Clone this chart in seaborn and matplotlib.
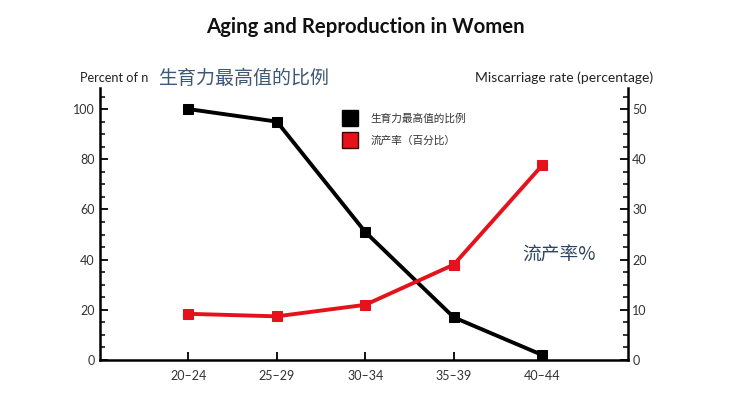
import matplotlib.pyplot as plt
import seaborn as sns
import pandas as pd
from matplotlib.lines import Line2D
from matplotlib.ticker import MultipleLocator

plt.switch_backend('Agg')

# data
age_groups = ['20–24', '25–29', '30–34', '35–39', '40–44']
fertility_pct = [100, 95, 51, 17, 2]          # left axis
miscarriage_pct = [9.2, 8.7, 11.0, 19.0, 38.8]  # right axis

sns.set_style('white')
plt.rcParams['font.family'] = ['Lato', 'Noto Sans CJK SC', 'DejaVu Sans']

df = pd.DataFrame({'age': age_groups, 'pos': range(len(age_groups)),
                   'fert': fertility_pct, 'misc': miscarriage_pct})

fig = plt.figure(figsize=(7.3, 4), dpi=100)
ax = fig.add_axes([100 / 730, 40 / 400, 528 / 730, 272 / 400])
ax2 = ax.twinx()

sns.lineplot(data=df, x='pos', y='fert', ax=ax, color='black', linewidth=2.8,
             marker='s', markersize=7, markeredgecolor='black')
sns.lineplot(data=df, x='pos', y='misc', ax=ax2, color='#e5121b', linewidth=2.8,
             marker='s', markersize=7, markeredgecolor='#e5121b')

ax.set_xlim(-1, 4.97)
ax.set_ylim(0, 108.4)
ax2.set_ylim(0, 54.2)
ax.set_xticks(df['pos'])
ax.set_xticklabels(age_groups)
ax.set_xlabel('')
ax.set_ylabel('')
ax2.set_ylabel('')

ax.yaxis.set_major_locator(MultipleLocator(20))
ax.yaxis.set_minor_locator(MultipleLocator(5))
ax2.yaxis.set_major_locator(MultipleLocator(10))
ax2.yaxis.set_minor_locator(MultipleLocator(2.5))

for a in (ax, ax2):
    a.spines['top'].set_visible(False)
    for s in a.spines.values():
        s.set_linewidth(1.8)
        s.set_color('black')
    a.tick_params(which='major', direction='in', length=6, width=1.3,
                  labelsize=9, colors='black', labelcolor='#333333')
    a.tick_params(which='minor', direction='in', length=3.5, width=1.1, colors='black')
ax.spines['right'].set_visible(False)
ax2.spines['left'].set_visible(False)
ax2.spines['bottom'].set_visible(False)
ax.tick_params(axis='y', which='both', left=True, right=False, pad=4)
ax2.tick_params(axis='y', which='both', right=True, left=False, pad=3)
ax.tick_params(axis='x', bottom=True, pad=7)

# texts
fig.text(0.5, 1 - 27 / 400, 'Aging and Reproduction in Women', ha='center', va='center',
         fontsize=14.7, fontweight='bold', color='#111111')
fig.text(80 / 730, 1 - 78 / 400, 'Percent of n', ha='left', va='center',
         fontsize=9.2, color='#222222')
fig.text(158 / 730, 1 - 78 / 400, '生育力最高值的比例', ha='left', va='center',
         fontsize=13.7, color='#3b5876', family=['Noto Sans CJK SC', 'DejaVu Sans'])
fig.text(475 / 730, 1 - 78 / 400, 'Miscarriage rate (percentage)', ha='left', va='center',
         fontsize=10, color='#222222')
fig.text(522 / 730, 1 - 255 / 400, '流产率%', ha='left', va='center',
         fontsize=13.5, color='#2e4560', family=['Noto Sans CJK SC', 'DejaVu Sans'])

handles = [Line2D([], [], linestyle='', marker='s', markersize=11, color='black'),
           Line2D([], [], linestyle='', marker='s', markersize=11, color='#e5121b',
                  markeredgecolor='#400000')]
labels = ['生育力最高值的比例', '流产率（百分比）']
leg = fig.legend(handles, labels, loc='upper left', bbox_to_anchor=(330 / 730, 1 - 104 / 400),
                 frameon=False, handletextpad=0.9, labelspacing=1.05,
                 prop={'family': ['Noto Sans CJK SC', 'DejaVu Sans'], 'size': 7.7})
for t in leg.get_texts():
    t.set_color('#333333')

fig.savefig('out.png', dpi=100, facecolor='white')
